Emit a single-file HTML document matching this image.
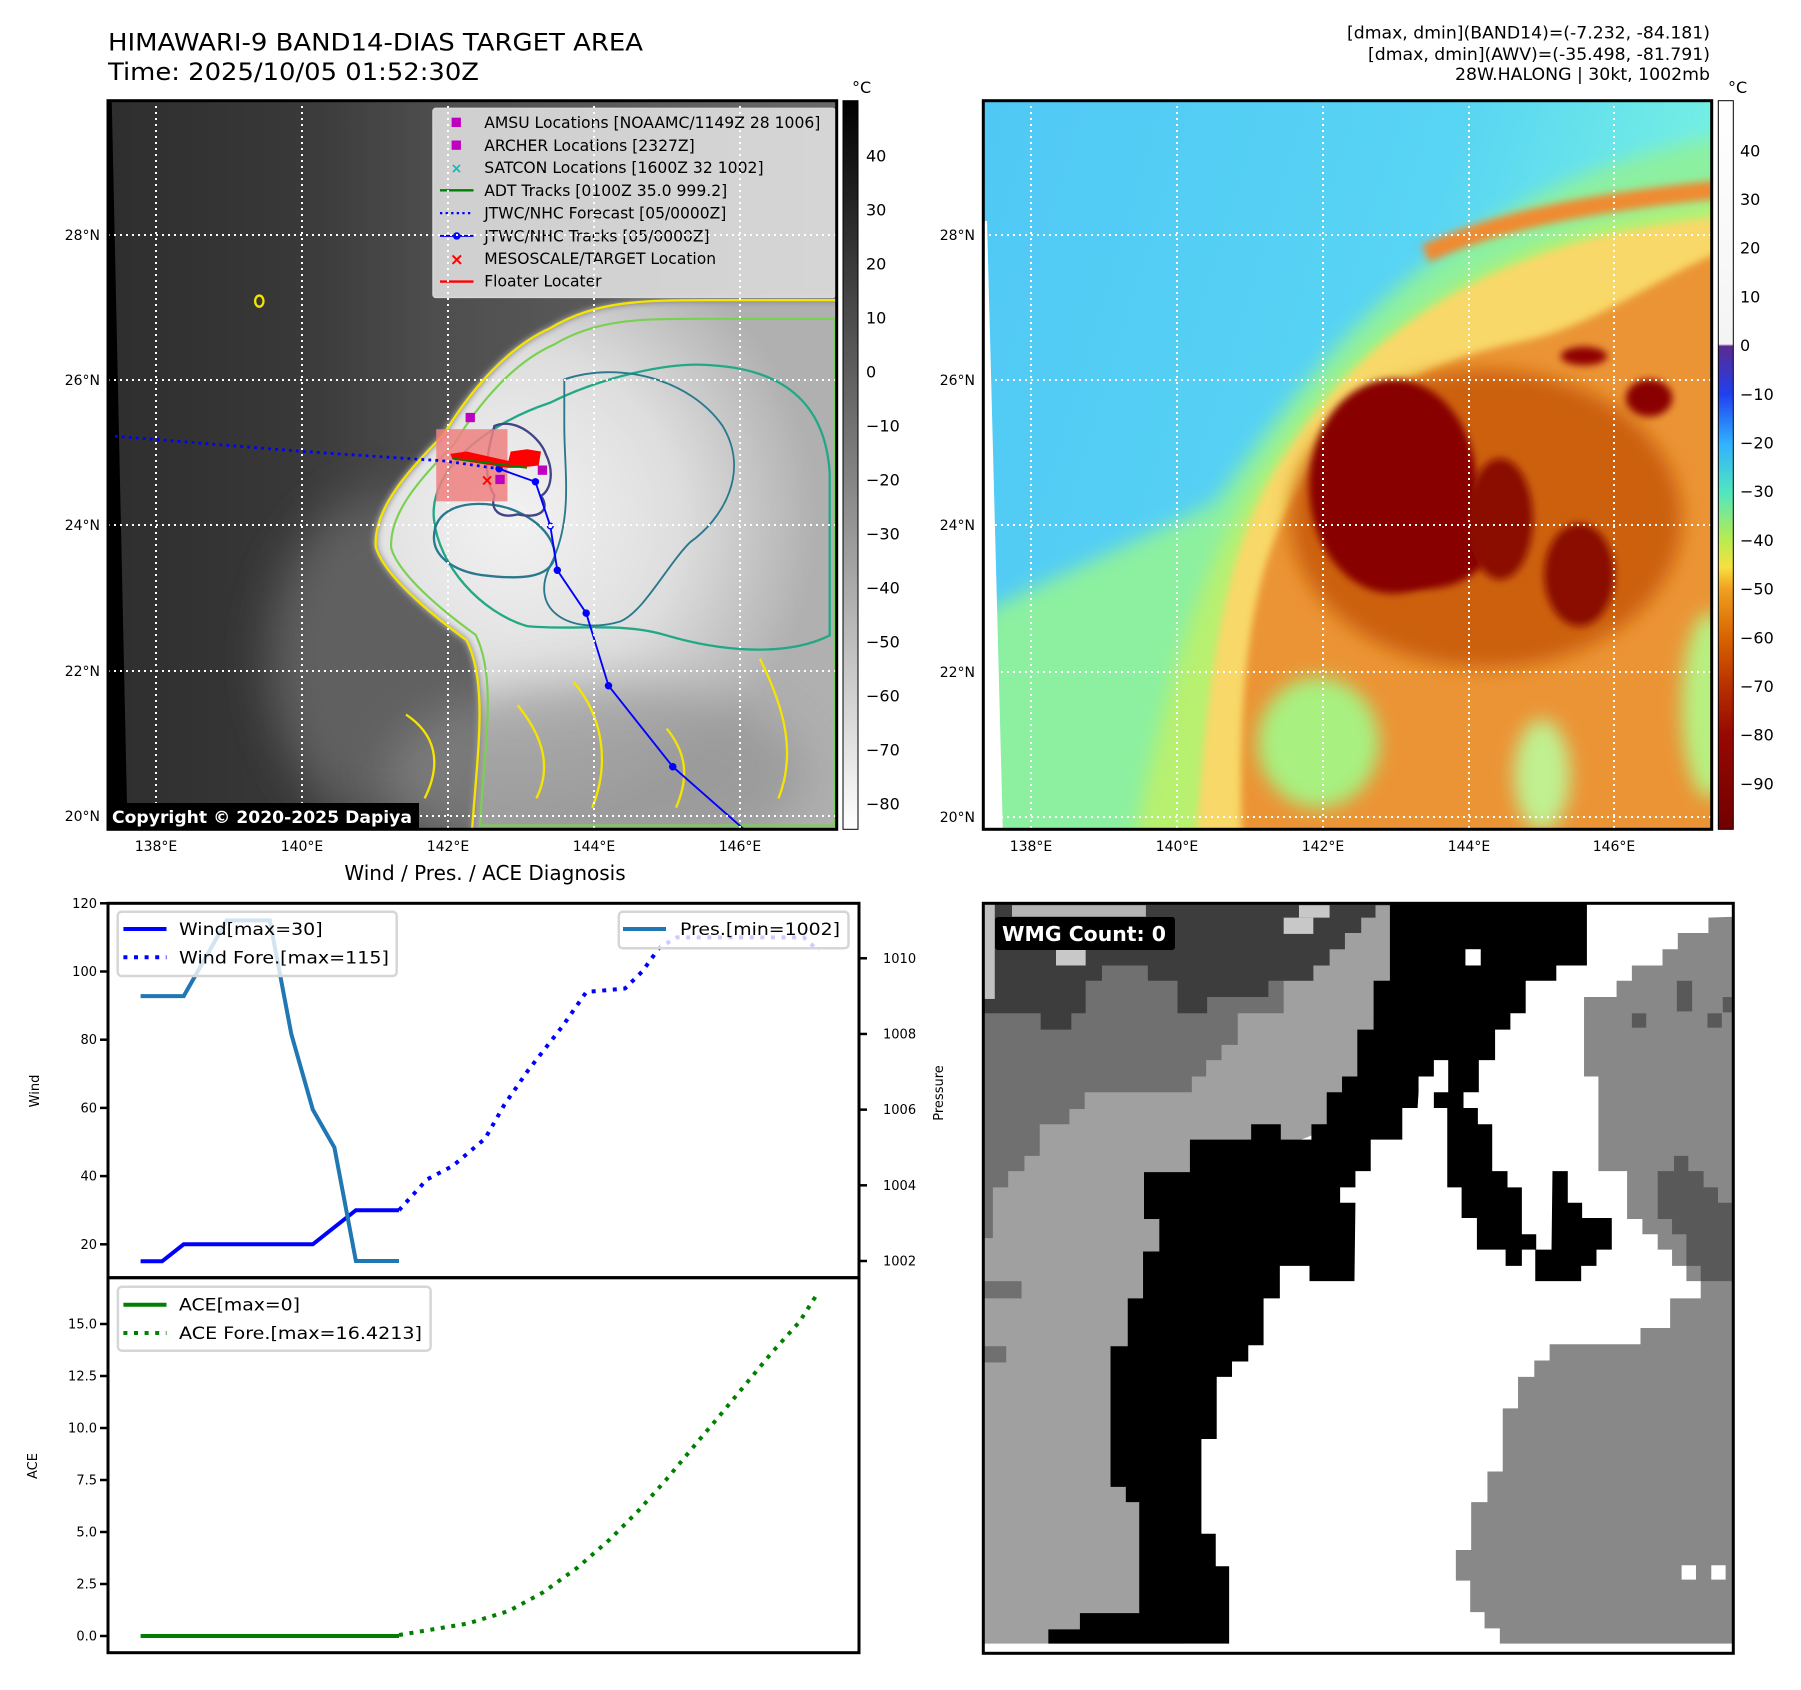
<!DOCTYPE html>
<html><head><meta charset="utf-8"><title>HIMAWARI-9 BAND14 diagnosis</title>
<style>
html,body{margin:0;padding:0;background:#fff;}
svg{display:block;font-family:"DejaVu Sans","Liberation Sans",sans-serif;}
</style></head>
<body>
<svg id="fig" width="1801" height="1690" viewBox="0 0 1801 1690" xmlns="http://www.w3.org/2000/svg">
<defs>
  <clipPath id="clipL"><rect x="108" y="100.7" width="728.7" height="728.6"/></clipPath>
  <clipPath id="clipR"><rect x="983.3" y="100.7" width="728.4" height="728.6"/></clipPath>
  <clipPath id="clipB"><rect x="983.3" y="903.3" width="750" height="750"/></clipPath>
  <filter id="blur8" filterUnits="userSpaceOnUse" x="-500" y="-500" width="3000" height="3000"><feGaussianBlur stdDeviation="8"/></filter>
  <filter id="blur20" filterUnits="userSpaceOnUse" x="-500" y="-500" width="3000" height="3000"><feGaussianBlur stdDeviation="20"/></filter>
  <filter id="blur50" filterUnits="userSpaceOnUse" x="-500" y="-500" width="3000" height="3000"><feGaussianBlur stdDeviation="50"/></filter>
  <radialGradient id="cloudG" cx="870" cy="900" r="650" gradientUnits="userSpaceOnUse">
    <stop offset="0" stop-color="#f2f2f2"/><stop offset="0.55" stop-color="#dedede"/><stop offset="1" stop-color="#b0b0b0"/>
  </radialGradient>
  <linearGradient id="hazeG" x1="0" y1="0" x2="1" y2="0">
    <stop offset="0" stop-color="#2e2e2e"/><stop offset="0.25" stop-color="#383838"/><stop offset="0.45" stop-color="#4e4e4e"/><stop offset="1" stop-color="#6a6a6a"/>
  </linearGradient>
  <linearGradient id="cb1" x1="0" y1="0" x2="0" y2="1">
    <stop offset="0" stop-color="#000"/><stop offset="1" stop-color="#fff"/>
  </linearGradient>
  <linearGradient id="cb2" x1="0" y1="0" x2="0" y2="1">
    <stop offset="0" stop-color="#ffffff"/><stop offset="0.334" stop-color="#f4f4f4"/>
    <stop offset="0.337" stop-color="#5a2a90"/><stop offset="0.403" stop-color="#2040f0"/>
    <stop offset="0.47" stop-color="#30b0ff"/><stop offset="0.537" stop-color="#50e6c0"/>
    <stop offset="0.603" stop-color="#b8ec50"/><stop offset="0.64" stop-color="#f8e040"/>
    <stop offset="0.67" stop-color="#f0a020"/><stop offset="0.737" stop-color="#d86400"/>
    <stop offset="0.804" stop-color="#b83000"/><stop offset="0.87" stop-color="#980800"/>
    <stop offset="1" stop-color="#700000"/>
  </linearGradient>
  <linearGradient id="skyG" x1="0" y1="0" x2="1" y2="0.3">
    <stop offset="0" stop-color="#50c8f5"/><stop offset="0.6" stop-color="#58d4f4"/><stop offset="1" stop-color="#7af5e0"/>
  </linearGradient>
  <path id="cloudP" d="M575 960 C570 880 640 800 720 720 C780 620 860 530 950 490 C1050 430 1150 430 1300 430 L1600 430 L1600 1600 L780 1600 C790 1420 820 1260 770 1160 C660 1080 590 1010 575 960 Z"/>
</defs>

<!-- Titles -->
<text x="108" y="50.7" font-size="24" textLength="535" lengthAdjust="spacingAndGlyphs">HIMAWARI-9 BAND14-DIAS TARGET AREA</text>
<text x="108" y="80" font-size="24" textLength="371" lengthAdjust="spacingAndGlyphs">Time: 2025/10/05 01:52:30Z</text>
<g font-size="16.5" text-anchor="end">
  <text x="1710" y="38.3" textLength="363" lengthAdjust="spacingAndGlyphs">[dmax, dmin](BAND14)=(-7.232, -84.181)</text>
  <text x="1710" y="60" textLength="342" lengthAdjust="spacingAndGlyphs">[dmax, dmin](AWV)=(-35.498, -81.791)</text>
  <text x="1710" y="80" textLength="255" lengthAdjust="spacingAndGlyphs">28W.HALONG | 30kt, 1002mb</text>
</g>

<!-- LEFT MAP -->
<g clip-path="url(#clipL)">
 <g transform="translate(108,100) scale(0.4656)">
  <rect x="0" y="0" width="1570" height="1570" fill="url(#hazeG)"/>
  <ellipse cx="600" cy="1200" rx="250" ry="350" fill="#606060" filter="url(#blur50)"/>
  <polygon points="0,0 8,0 42,1570 0,1570" fill="#000"/>
  <use href="#cloudP" fill="url(#cloudG)" filter="url(#blur8)"/>
  <ellipse cx="1050" cy="1450" rx="450" ry="200" fill="#8e8e8e" opacity="0.6" filter="url(#blur50)"/>
  <use href="#cloudP" fill="none" stroke="#f5e400" stroke-width="5"/>
  <use href="#cloudP" fill="none" stroke="#7ad151" stroke-width="5" transform="translate(1050,1000) scale(0.93) translate(-1050,-1000)"/>
  <path d="M640 1320 C700 1360 720 1420 680 1500 M880 1300 C920 1350 960 1420 920 1500 M1000 1250 C1060 1320 1080 1420 1040 1520 M1400 1200 C1450 1300 1480 1400 1440 1500 M1200 1350 C1240 1400 1250 1450 1220 1520" fill="none" stroke="#f5e400" stroke-width="5"/>
  <path d="M700 900 C690 800 800 700 950 650 C1050 600 1200 560 1300 570 C1450 580 1540 650 1550 800 L1550 1150 C1450 1200 1300 1180 1200 1150 C1100 1120 1000 1140 900 1130 C800 1100 710 1000 700 900 Z" fill="none" stroke="#22a884" stroke-width="5"/>
  <path d="M700 940 C700 880 760 860 830 870 C900 880 960 930 960 980 C950 1030 880 1030 800 1020 C740 1010 700 980 700 940 Z" fill="none" stroke="#2a788e" stroke-width="5"/>
  <path d="M980 600 C1100 560 1250 600 1320 700 C1380 800 1320 900 1250 950 C1200 1000 1150 1100 1100 1120 C1000 1150 900 1100 950 1000 C1000 900 980 800 980 700 Z" fill="none" stroke="#2a788e" stroke-width="4"/>
  <path d="M830 700 C880 680 930 730 940 760 C960 800 950 840 930 850 C950 880 930 900 880 890 C840 900 820 880 830 850 C800 800 820 740 830 700 Z" fill="none" stroke="#414487" stroke-width="5"/>
  <ellipse cx="325" cy="432" rx="9" ry="12" fill="none" stroke="#f5e400" stroke-width="5"/>
  <rect x="705" y="707" width="153" height="155" fill="#f08080" opacity="0.85"/>
  <polyline points="15,722 420,755 720,775 840,792" fill="none" stroke="#0000ff" stroke-width="6" stroke-dasharray="6 9"/>
  <polyline points="1370,1570 1213,1432 1075,1258 1027,1102 965,1010 950,915 918,820 870,803 840,792" fill="none" stroke="#0000ff" stroke-width="4"/>
  <g fill="#0000ff">
   <circle cx="1213" cy="1432" r="8"/><circle cx="1075" cy="1258" r="8"/><circle cx="1027" cy="1102" r="8"/>
   <circle cx="965" cy="1010" r="8"/><circle cx="918" cy="820" r="8"/><circle cx="840" cy="792" r="8"/>
  </g>
  <circle cx="950" cy="915" r="6" fill="#fff" stroke="#0000ff" stroke-width="3"/>
  <polygon points="735,760 770,755 860,775 865,755 900,750 930,755 925,785 880,790 860,790 740,772" fill="#ff0000"/>
  <line x1="740" y1="770" x2="900" y2="790" stroke="#008000" stroke-width="4"/>
  <text x="800" y="828" fill="#ff0000" font-size="34" font-weight="bold">×</text>
  <g fill="#c000c0">
   <rect x="768" y="672" width="20" height="20"/><rect x="832" y="805" width="20" height="20"/><rect x="923" y="785" width="20" height="20"/>
  </g>
  <rect x="698" y="18" width="864" height="406" rx="6" fill="#f0f0f0" fill-opacity="0.8" stroke="#d8d8d8" stroke-width="3"/>
  <g font-size="34.5">
   <rect x="738" y="38" width="20" height="20" fill="#c000c0"/>
   <text x="808" y="60" textLength="722" lengthAdjust="spacingAndGlyphs">AMSU Locations [NOAAMC/1149Z 28 1006]</text>
   <rect x="738" y="87" width="20" height="20" fill="#c000c0"/>
   <text x="808" y="109" textLength="452" lengthAdjust="spacingAndGlyphs">ARCHER Locations [2327Z]</text>
   <text x="736" y="157" fill="#00c0c0" font-weight="bold" font-size="30">×</text>
   <text x="808" y="157" textLength="600" lengthAdjust="spacingAndGlyphs">SATCON Locations [1600Z 32 1002]</text>
   <line x1="713" y1="194" x2="785" y2="194" stroke="#008000" stroke-width="5"/>
   <text x="808" y="206" textLength="522" lengthAdjust="spacingAndGlyphs">ADT Tracks [0100Z 35.0 999.2]</text>
   <line x1="713" y1="243" x2="785" y2="243" stroke="#0000ff" stroke-width="5" stroke-dasharray="5 7"/>
   <text x="808" y="255" textLength="520" lengthAdjust="spacingAndGlyphs">JTWC/NHC Forecast [05/0000Z]</text>
   <line x1="713" y1="292" x2="785" y2="292" stroke="#0000ff" stroke-width="4"/><circle cx="749" cy="292" r="8" fill="#0000ff"/>
   <text x="808" y="304" textLength="484" lengthAdjust="spacingAndGlyphs">JTWC/NHC Tracks [05/0000Z]</text>
   <text x="734" y="354" fill="#ff0000" font-weight="bold" font-size="36">×</text>
   <text x="808" y="352" textLength="498" lengthAdjust="spacingAndGlyphs">MESOSCALE/TARGET Location</text>
   <line x1="713" y1="390" x2="785" y2="390" stroke="#ff0000" stroke-width="5"/>
   <text x="808" y="401" textLength="252" lengthAdjust="spacingAndGlyphs">Floater Locater</text>
  </g>
 </g>
 <g stroke="#fff" stroke-width="2" stroke-dasharray="2 4">
  <line x1="156" y1="100" x2="156" y2="830"/><line x1="302" y1="100" x2="302" y2="830"/><line x1="448" y1="100" x2="448" y2="830"/><line x1="594" y1="100" x2="594" y2="830"/><line x1="740" y1="100" x2="740" y2="830"/>
  <line x1="108" y1="235" x2="837" y2="235"/><line x1="108" y1="380" x2="837" y2="380"/><line x1="108" y1="525" x2="837" y2="525"/><line x1="108" y1="671" x2="837" y2="671"/><line x1="108" y1="816" x2="837" y2="816"/>
 </g>
 <rect x="108" y="803" width="311" height="27" fill="#000"/>
 <text x="112" y="823" fill="#fff" font-weight="bold" font-size="16.5" textLength="300" lengthAdjust="spacingAndGlyphs">Copyright © 2020-2025 Dapiya</text>
</g>
<rect x="108" y="100.7" width="728.7" height="728.6" fill="none" stroke="#000" stroke-width="3"/>

<!-- RIGHT MAP -->
<g clip-path="url(#clipR)">
 <g transform="translate(983.3,100) scale(0.4656)">
  <rect x="0" y="0" width="1570" height="1570" fill="url(#skyG)"/>
  <path d="M0 1700 L0 1100 C200 1000 400 920 500 860 C650 650 800 450 1000 320 C1200 180 1400 100 1700 60 L1700 1700 Z" fill="#8cf0a0" filter="url(#blur20)"/>
  <path d="M300 1700 C400 1200 480 980 600 800 C760 560 950 420 1150 330 C1300 260 1450 230 1700 200 L1700 1700 Z" fill="#b8f070" filter="url(#blur20)"/>
  <path d="M450 1700 C480 1200 520 950 650 760 C780 560 950 430 1150 350 C1300 290 1450 260 1700 240 L1700 1700 Z" fill="#f8d868" filter="url(#blur8)"/>
  <path d="M950 330 C1100 260 1300 220 1600 190" fill="none" stroke="#f08a30" stroke-width="40" filter="url(#blur8)"/>
  <path d="M560 1700 C540 1300 560 1000 700 800 C800 650 950 560 1150 520 C1350 480 1500 330 1700 290 L1700 1700 Z" fill="#eb9434" filter="url(#blur8)"/>
  <ellipse cx="720" cy="1380" rx="130" ry="140" fill="#a8f080" filter="url(#blur20)"/>
  <ellipse cx="1200" cy="1450" rx="60" ry="120" fill="#c0f090" filter="url(#blur20)"/>
  <ellipse cx="1560" cy="1300" rx="60" ry="200" fill="#b8f080" filter="url(#blur20)"/>
  <ellipse cx="1080" cy="900" rx="420" ry="320" fill="#cc6010" filter="url(#blur20)"/>
  <ellipse cx="880" cy="830" rx="180" ry="230" fill="#880000" filter="url(#blur8)"/>
  <ellipse cx="950" cy="930" rx="150" ry="120" fill="#880000" filter="url(#blur8)"/>
  <ellipse cx="1110" cy="900" rx="70" ry="130" fill="#8a0a00" filter="url(#blur8)"/>
  <ellipse cx="1280" cy="1020" rx="75" ry="110" fill="#8a0a00" filter="url(#blur8)"/>
  <ellipse cx="1430" cy="640" rx="50" ry="40" fill="#8a0000" filter="url(#blur8)"/>
  <ellipse cx="1290" cy="550" rx="50" ry="20" fill="#900000" filter="url(#blur8)"/>
  <polygon points="0,0 0,1570 42,1570 8,260 0,260" fill="#fff"/>
 </g>
 <g stroke="#fff" stroke-width="2" stroke-dasharray="2 4">
  <line x1="1031" y1="100" x2="1031" y2="830"/><line x1="1177" y1="100" x2="1177" y2="830"/><line x1="1323" y1="100" x2="1323" y2="830"/><line x1="1469" y1="100" x2="1469" y2="830"/><line x1="1614" y1="100" x2="1614" y2="830"/>
  <line x1="983" y1="235" x2="1712" y2="235"/><line x1="983" y1="380" x2="1712" y2="380"/><line x1="983" y1="525" x2="1712" y2="525"/><line x1="983" y1="672" x2="1712" y2="672"/><line x1="983" y1="817" x2="1712" y2="817"/>
 </g>
</g>
<rect x="983.3" y="100.7" width="728.4" height="728.6" fill="none" stroke="#000" stroke-width="3"/>

<!-- map tick labels -->
<g font-size="14">
 <g text-anchor="end">
  <text x="100" y="240">28°N</text><text x="100" y="385">26°N</text><text x="100" y="530">24°N</text><text x="100" y="676">22°N</text><text x="100" y="821">20°N</text>
  <text x="975" y="240">28°N</text><text x="975" y="385">26°N</text><text x="975" y="530">24°N</text><text x="975" y="677">22°N</text><text x="975" y="822">20°N</text>
 </g>
 <g text-anchor="middle">
  <text x="156" y="851">138°E</text><text x="302" y="851">140°E</text><text x="448" y="851">142°E</text><text x="594" y="851">144°E</text><text x="740" y="851">146°E</text>
  <text x="1031" y="851">138°E</text><text x="1177" y="851">140°E</text><text x="1323" y="851">142°E</text><text x="1469" y="851">144°E</text><text x="1614" y="851">146°E</text>
 </g>
</g>

<!-- colorbars -->
<g>
 <rect x="843" y="100.7" width="15" height="728.6" fill="url(#cb1)" stroke="#000" stroke-width="1"/>
 <text x="852" y="93" font-size="16">°C</text>
 <g font-size="16">
  <text x="866" y="161.6">40</text><text x="866" y="215.6">30</text><text x="866" y="269.6">20</text><text x="866" y="323.6">10</text><text x="866" y="377.6">0</text>
  <text x="866" y="431.6">−10</text><text x="866" y="485.6">−20</text><text x="866" y="539.6">−30</text><text x="866" y="593.6">−40</text><text x="866" y="647.6">−50</text>
  <text x="866" y="701.6">−60</text><text x="866" y="755.6">−70</text><text x="866" y="809.6">−80</text>
 </g>
</g>
<g>
 <rect x="1718.3" y="100.7" width="15" height="728.6" fill="url(#cb2)" stroke="#000" stroke-width="1"/>
 <text x="1728" y="93" font-size="16">°C</text>
 <g font-size="16">
  <text x="1740" y="156.3">40</text><text x="1740" y="205">30</text><text x="1740" y="253.7">20</text><text x="1740" y="302.4">10</text><text x="1740" y="351.1">0</text>
  <text x="1740" y="399.8">−10</text><text x="1740" y="448.5">−20</text><text x="1740" y="497.2">−30</text><text x="1740" y="545.9">−40</text><text x="1740" y="594.6">−50</text>
  <text x="1740" y="643.3">−60</text><text x="1740" y="692">−70</text><text x="1740" y="740.7">−80</text><text x="1740" y="789.4">−90</text>
 </g>
</g>

<!-- WMG panel -->
<g clip-path="url(#clipB)">
 <g transform="translate(983.3,903.3) scale(0.4783)">
  <rect x="0" y="0" width="1568" height="1568" fill="#fff"/>
  <polygon points="0,0 850,0 850,160 900,200 850,300 760,420 700,480 600,520 500,600 450,700 450,800 400,900 380,1000 380,1200 400,1300 420,1548 0,1548" fill="#a0a0a0"/>
  <polygon points="0,0 820,0 820,30 790,30 790,62 756,62 756,96 724,96 724,130 690,130 690,162 628,162 628,230 532,230 532,296 498,296 498,328 466,328 466,362 436,362 436,395 212,395 212,430 180,430 180,462 118,462 118,528 86,528 86,560 52,560 52,594 20,594 20,700 0,700" fill="#707070"/>
  <polygon points="0,0 850,0 850,4 820,4 820,30 790,30 790,62 756,62 756,96 724,96 724,130 690,130 690,162 596,162 596,196 468,196 468,230 406,230 406,162 344,162 344,130 248,130 248,162 214,162 214,230 184,230 184,264 120,264 120,230 0,230" fill="#3d3d3d"/>
  <rect x="60" y="4" width="280" height="24" fill="#b4b4b4"/>
  <rect x="660" y="4" width="64" height="26" fill="#c8c8c8"/>
  <rect x="628" y="30" width="62" height="34" fill="#c8c8c8"/>
  <rect x="152" y="96" width="62" height="34" fill="#c8c8c8"/>
  <rect x="0" y="0" width="24" height="200" fill="#c0c0c0"/>
  <rect x="0" y="790" width="80" height="36" fill="#707070"/>
  <rect x="0" y="926" width="48" height="34" fill="#707070"/>
  <polygon points="1262,0 1262,130 1198,130 1198,162 1134,162 1134,230 1102,230 1102,264 1070,264 1070,328 1036,328 1036,395 1004,395 1004,428 1034,428 1034,462 1064,462 1064,560 1096,560 1096,594 1126,594 1126,692 1156,692 1156,724 1126,724 1126,758 1092,758 1092,724 1032,724 1032,658 1000,658 1000,594 970,594 970,428 942,428 942,395 972,395 972,328 942,328 942,362 910,362 910,395 908,428 876,428 876,494 810,494 810,560 778,560 778,594 746,594 746,626 778,626 776,790 682,790 682,758 620,758 620,826 586,826 586,924 554,924 554,958 520,958 520,990 488,990 488,1120 456,1120 456,1318 486,1318 486,1386 514,1386 514,1548 136,1548 136,1518 202,1518 202,1484 326,1484 326,1252 298,1252 298,1220 266,1220 266,926 302,926 302,826 334,826 334,728 368,728 368,660 336,660 336,562 432,562 432,494 560,494 560,462 622,462 622,494 686,494 686,462 718,462 718,395 750,395 750,362 782,362 782,264 816,264 816,162 850,162 850,0" fill="#000"/>
  <polygon points="1190,560 1222,560 1222,626 1252,626 1252,658 1314,658 1314,724 1282,724 1282,758 1250,758 1250,790 1154,790 1154,724 1188,724" fill="#000"/>
  <rect x="1008" y="96" width="32" height="34" fill="#fff"/>
  <polygon points="1516,30 1568,28 1568,1548 1080,1548 1080,1516 1048,1516 1048,1482 1018,1482 1018,1416 988,1416 988,1352 1020,1352 1020,1252 1054,1252 1054,1188 1086,1188 1086,1056 1118,1056 1118,990 1152,990 1152,956 1184,956 1184,922 1374,922 1374,888 1436,888 1436,826 1500,826 1500,790 1470,790 1470,758 1440,758 1440,724 1410,724 1410,692 1378,692 1378,660 1346,660 1346,560 1286,560 1286,362 1256,362 1256,196 1324,196 1324,162 1356,162 1356,130 1420,130 1420,96 1452,96 1452,62 1516,62" fill="#888"/>
  <polygon points="1410,560 1444,560 1444,528 1474,528 1474,560 1506,560 1506,594 1536,594 1536,626 1568,626 1568,790 1500,790 1500,758 1470,758 1470,692 1440,692 1440,660 1410,660" fill="#595959"/>
  <rect x="1450" y="162" width="32" height="64" fill="#595959"/>
  <rect x="1356" y="230" width="30" height="30" fill="#595959"/>
  <rect x="1514" y="230" width="30" height="30" fill="#595959"/>
  <rect x="1546" y="196" width="22" height="32" fill="#595959"/>
  <rect x="1460" y="1384" width="30" height="30" fill="#fff"/>
  <rect x="1522" y="1384" width="30" height="30" fill="#fff"/>
  <rect x="0" y="1548" width="1568" height="22" fill="#fff"/>
 </g>
 <rect x="995" y="917" width="180" height="33" rx="3" fill="#000"/>
 <text x="1002" y="941" fill="#fff" font-weight="bold" font-size="20" textLength="164" lengthAdjust="spacingAndGlyphs">WMG Count: 0</text>
</g>
<rect x="983.3" y="903.3" width="750" height="750" fill="none" stroke="#000" stroke-width="3"/>

<!-- Diagnosis chart -->
<text x="485" y="880" font-size="20" text-anchor="middle">Wind / Pres. / ACE Diagnosis</text>
<g id="chart"></g>

<script>
var windObsIdx = [0, 1, 2, 8, 10, 12];
var windObsVal = [15, 15, 20, 20, 30, 30];
var windForeIdx = [12, 13.3, 14.5, 16, 16.9, 18, 19.6, 20.7, 22.5, 23.3, 24.1, 24.9, 28, 30.8, 31.5];
var windForeVal = [30, 39, 43, 51, 61, 71, 84, 94, 95, 100, 107, 110, 110, 110, 106];
var presIdx = [0, 2, 4, 6, 7, 8, 9, 10, 12];
var presVal = [1009, 1009, 1011, 1011, 1008, 1006, 1005, 1002, 1002];
var aceObsIdx = [0, 12];
var aceObsVal = [0, 0];
var aceForeIdx = [12, 15.2, 17.1, 18.7, 20.3, 21.8, 23.1, 24.4, 25.6, 26.9, 28.1, 29.3, 30.6, 31.4];
var aceForeVal = [0.05, 0.6, 1.2, 2.1, 3.3, 4.65, 6.0, 7.5, 9.0, 10.6, 12.1, 13.6, 15.1, 16.4];
var windTicks = [20, 40, 60, 80, 100, 120];
var presTicks = [1002, 1004, 1006, 1008, 1010];
var aceTicks = [0, 2.5, 5, 7.5, 10, 12.5, 15];
var aceTickLabels = ["0.0", "2.5", "5.0", "7.5", "10.0", "12.5", "15.0"];

var NS = "http://www.w3.org/2000/svg";
var chart = document.getElementById("chart");
function xs(i) { return 140.6 + i * 21.53; }
function yW(v) { return 903.3 + (120 - v) * 3.41; }
function yP(p) { return 1261 - (p - 1002) * 37.84; }
function yA(a) { return 1636 - a * 20.8; }
function mk(tag, attrs) {
  var e = document.createElementNS(NS, tag);
  for (var k in attrs) e.setAttribute(k, attrs[k]);
  chart.appendChild(e);
  return e;
}
function pts(ix, vals, yf) {
  var s = [];
  for (var i = 0; i < ix.length; i++) s.push(xs(ix[i]).toFixed(1) + "," + yf(vals[i]).toFixed(1));
  return s.join(" ");
}
var f1 = mk("rect", {x: 108, y: 903.3, width: 751, height: 374.4, fill: "none", stroke: "#000", "stroke-width": 3});


var f2 = mk("rect", {x: 108, y: 1277.7, width: 751, height: 375, fill: "none", stroke: "#000", "stroke-width": 3});


windTicks.forEach(function (v) {
  var y = yW(v);
  var t = mk("line", {x1: 100, y1: y, x2: 108, y2: y, stroke: "#000", "stroke-width": 2.5});
  
  
  var l = mk("text", {x: 97, y: y + 4.5, "font-size": 13, "text-anchor": "end"});
  l.textContent = String(v);
  
  
});
presTicks.forEach(function (p) {
  var y = yP(p);
  var t = mk("line", {x1: 859, y1: y, x2: 867, y2: y, stroke: "#000", "stroke-width": 2.5});
  
  
  var l = mk("text", {x: 883, y: y + 4.5, "font-size": 13});
  l.textContent = String(p);
  
  
});
aceTicks.forEach(function (a, i) {
  var y = yA(a);
  var t = mk("line", {x1: 100, y1: y, x2: 108, y2: y, stroke: "#000", "stroke-width": 2.5});
  
  
  var l = mk("text", {x: 97, y: y + 4.5, "font-size": 13, "text-anchor": "end"});
  l.textContent = aceTickLabels[i];
  
  
});
var wl = mk("text", {x: 0, y: 0, "font-size": 13, "text-anchor": "middle", transform: "translate(39,1091) rotate(-90)"});
wl.textContent = "Wind";


var pl = mk("text", {x: 0, y: 0, "font-size": 13, "text-anchor": "middle", transform: "translate(943,1093) rotate(-90)"});
pl.textContent = "Pressure";


var al = mk("text", {x: 0, y: 0, "font-size": 13, "text-anchor": "middle", transform: "translate(37,1466) rotate(-90)"});
al.textContent = "ACE";


var s1 = mk("polyline", {points: pts(windObsIdx, windObsVal, yW), fill: "none", stroke: "#0000ff", "stroke-width": 4});


var s2 = mk("polyline", {points: pts(windForeIdx, windForeVal, yW), fill: "none", stroke: "#0000ff", "stroke-width": 4, "stroke-dasharray": "4 6.6"});


var s3 = mk("polyline", {points: pts(presIdx, presVal, yP), fill: "none", stroke: "#1f77b4", "stroke-width": 4});


var s4 = mk("polyline", {points: pts(aceObsIdx, aceObsVal, yA), fill: "none", stroke: "#008000", "stroke-width": 4});


var s5 = mk("polyline", {points: pts(aceForeIdx, aceForeVal, yA), fill: "none", stroke: "#008000", "stroke-width": 4, "stroke-dasharray": "4 6.6"});


function legendBox(x, y, w, h, name) {
  var b = mk("rect", {x: x, y: y, width: w, height: h, rx: 4, fill: "#fff", "fill-opacity": 0.8, stroke: "#d6d6d6", "stroke-width": 2.5});
  
  
}
function legendEntry(x1, x2, y, color, dash, tx, txt, tl, name) {
  var ln = mk("line", {x1: x1, y1: y - 6, x2: x2, y2: y - 6, stroke: color, "stroke-width": 4});
  if (dash) ln.setAttribute("stroke-dasharray", "4 6.6");
  
  
  var t = mk("text", {x: tx, y: y, "font-size": 17, textLength: tl, lengthAdjust: "spacingAndGlyphs"});
  t.textContent = txt;
  
  
}
legendBox(117.7, 911.7, 279, 64.3, "wind-legend");
legendEntry(123.4, 166.5, 935, "#0000ff", false, 179, "Wind[max=30]", 143.6, "legend-entry-wind");
legendEntry(123.4, 166.5, 963.3, "#0000ff", true, 179, "Wind Fore.[max=115]", 210, "legend-entry-wind-forecast");
legendBox(618.8, 911.7, 229.7, 36.6, "pressure-legend");
legendEntry(623, 666, 935, "#1f77b4", false, 680, "Pres.[min=1002]", 160, "legend-entry-pressure");
legendBox(117.9, 1286.7, 312.7, 64, "ace-legend");
legendEntry(123.4, 166.5, 1310.7, "#008000", false, 179, "ACE[max=0]", 121, "legend-entry-ace");
legendEntry(123.4, 166.5, 1339, "#008000", true, 179, "ACE Fore.[max=16.4213]", 243, "legend-entry-ace-forecast");
</script>
</svg>
</body></html>
